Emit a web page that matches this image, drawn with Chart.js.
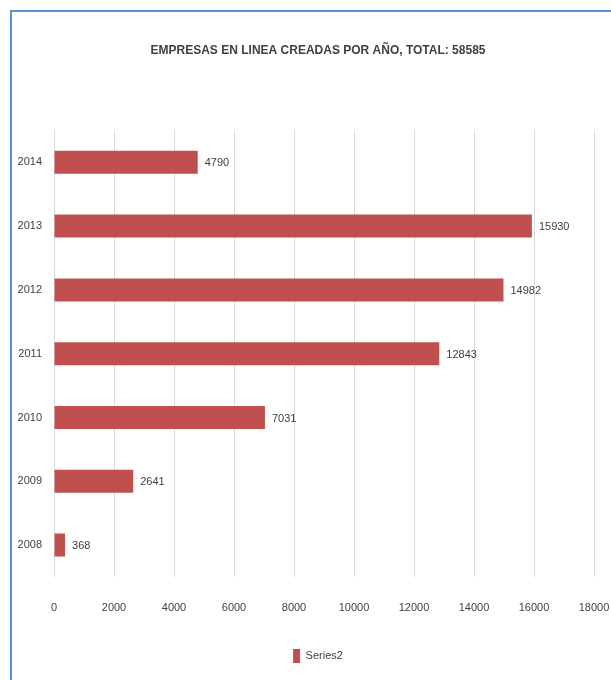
<!DOCTYPE html>
<html>
<head>
<meta charset="utf-8">
<script src="https://cdn.jsdelivr.net/npm/chart.js@4.4.1/dist/chart.umd.min.js"></script>
<style>
    html, body { margin: 0; padding: 0; background: #fff; overflow: hidden; }
    #frame { position: absolute; left: 10px; top: 10px; width: 700px; height: 800px; border-left: 2px solid #5b8fd6; border-top: 2px solid #5b8fd6; }
    #wrap { position: absolute; left: 0; top: 0; width: 636px; height: 680px; }
</style>
</head>
<body>
<div id="frame"></div>
<div id="wrap"><canvas id="grafico"></canvas></div>
<script>
const anos = ["2014", "2013", "2012", "2011", "2010", "2009", "2008"];
const empresas = [4790, 15930, 14982, 12843, 7031, 2641, 368];
const titulo = "EMPRESAS EN LINEA CREADAS POR AÑO, TOTAL: 58585";
const nomeSerie = "Series2";

const fonte = "'Liberation Sans Narrow', 'Liberation Sans', sans-serif";
const corTexto = "#404040";
const corBarra = "#c0504d";

// rotulos de valor ao lado de cada barra
const rotulos = {
    id: "rotulos",
    afterDatasetsDraw(chart) {
        const ctx = chart.ctx;
        const meta = chart.getDatasetMeta(0);
        ctx.save();
        ctx.font = "11px " + fonte;
        ctx.fillStyle = corTexto;
        ctx.textAlign = "left";
        ctx.textBaseline = "middle";
        meta.data.forEach((barra, i) => {
            ctx.fillText(chart.data.datasets[0].data[i], barra.x + 7, barra.y + 1);
        });
        ctx.restore();
    }
};

Chart.defaults.font.family = fonte;
Chart.defaults.color = corTexto;

new Chart(document.getElementById("grafico"), {
    type: "bar",
    data: {
        labels: anos,
        datasets: [{
            label: nomeSerie,
            data: empresas,
            backgroundColor: corBarra,
            borderWidth: 0,
            categoryPercentage: 1,
            barPercentage: 0.36
        }]
    },
    options: {
        indexAxis: "y",
        responsive: true,
        maintainAspectRatio: false,
        animation: false,
        layout: { padding: { left: 0, right: 0, top: 0, bottom: 7 } },
        plugins: {
            title: {
                display: true,
                text: titulo,
                color: corTexto,
                font: { size: 12, weight: "bold" },
                padding: { top: 43, bottom: 73 }
            },
            legend: {
                position: "bottom",
                labels: { boxWidth: 7, boxHeight: 14, font: { size: 11 }, padding: 10 }
            },
            tooltip: { enabled: false }
        },
        scales: {
            x: {
                min: 0,
                max: 18000,
                ticks: { stepSize: 2000, padding: 24, font: { size: 11 }, color: corTexto, callback: v => String(v) },
                grid: { color: "#d9d9d9", drawTicks: false },
                border: { display: false },
                afterFit(scale) {
                    scale.height = 62;
                    scale.paddingLeft = 0;
                    scale.paddingRight = 42;
                }
            },
            y: {
                ticks: { padding: 12, font: { size: 11 }, color: corTexto },
                grid: { display: false, drawTicks: false },
                border: { display: false },
                afterFit(scale) { scale.width = 54; }
            }
        }
    },
    plugins: [rotulos]
});
</script>
</body>
</html>
